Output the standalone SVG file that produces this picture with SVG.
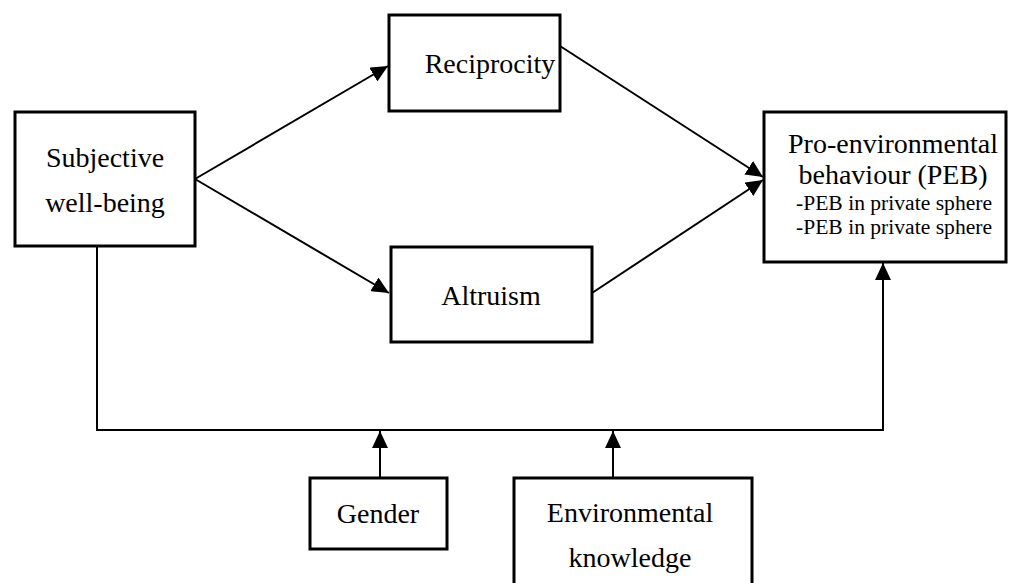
<svg xmlns="http://www.w3.org/2000/svg" width="1011" height="583" viewBox="0 0 1011 583">
<style>
.box{fill:#fff;stroke:#000;stroke-width:3}
.t{font-family:"Liberation Serif","Times New Roman",serif;font-size:28px;fill:#000;text-anchor:middle}
.s{font-size:21.6px}
.ln{fill:none;stroke:#000;stroke-width:2}
</style>
<defs>
<marker id="ah" markerUnits="userSpaceOnUse" markerWidth="18" markerHeight="16" refX="17" refY="8" orient="auto">
<path d="M0,0 L17,8 L0,16 z" fill="#000"/>
</marker>
</defs>
<rect width="1011" height="583" fill="#fff"/>
<g id="connectors">
<line class="ln" x1="195" y1="179" x2="388" y2="66" marker-end="url(#ah)"/>
<line class="ln" x1="195" y1="179" x2="389" y2="293" marker-end="url(#ah)"/>
<line class="ln" x1="560" y1="46" x2="763" y2="177" marker-end="url(#ah)"/>
<line class="ln" x1="592" y1="293" x2="763" y2="180" marker-end="url(#ah)"/>
<polyline class="ln" points="97,246 97,430 883,430 883,263" marker-end="url(#ah)"/>
<line class="ln" x1="380" y1="478" x2="380" y2="431" marker-end="url(#ah)"/>
<line class="ln" x1="613" y1="478" x2="613" y2="431" marker-end="url(#ah)"/>
</g>
<g id="subjective">
<rect class="box" x="15" y="112" width="180" height="134"/>
<text class="t" x="105" y="167">Subjective</text>
<text class="t" x="105" y="212">well-being</text>
</g>
<g id="reciprocity">
<rect class="box" x="389" y="15" width="171" height="96"/>
<text class="t" x="490" y="73">Reciprocity</text>
</g>
<g id="altruism">
<rect class="box" x="391" y="247" width="201" height="95"/>
<text class="t" x="491" y="305">Altruism</text>
</g>
<g id="peb">
<rect class="box" x="764" y="112" width="242" height="150"/>
<text class="t" x="893" y="153">Pro-environmental</text>
<text class="t" x="893" y="184">behaviour (PEB)</text>
<text class="t s" x="894" y="210">-PEB in private sphere</text>
<text class="t s" x="894" y="234">-PEB in private sphere</text>
</g>
<g id="gender">
<rect class="box" x="310" y="478" width="137" height="71"/>
<text class="t" x="378" y="523">Gender</text>
</g>
<g id="knowledge">
<rect class="box" x="514" y="478" width="238" height="130"/>
<text class="t" x="630" y="522">Environmental</text>
<text class="t" x="630" y="567">knowledge</text>
</g>
</svg>
